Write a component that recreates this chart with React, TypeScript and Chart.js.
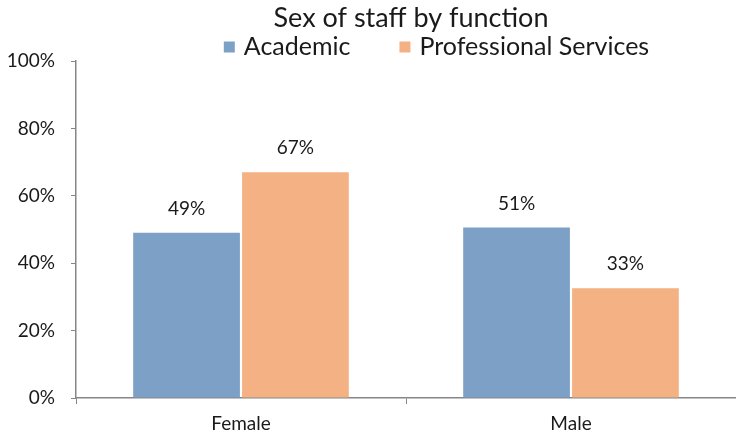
import React, { useEffect, useRef } from "react";
import { Chart, registerables } from "chart.js";

Chart.register(...registerables);

const categories = ["Female", "Male"];
const seriesNames = ["Academic", "Professional Services"];
const academic = [49, 50.6];
const professional = [67, 32.6];
const colors = ["#7DA1C6", "#F4B183"];
const titleText = "Sex of staff by function";

const FONT = "Lato, 'Open Sans', sans-serif";
const TEXT = "#1a1a1a";

const headerPlugin = {
  id: "header",
  afterDraw(chart: any) {
    const ctx = chart.ctx;
    ctx.save();
    // title
    ctx.font = `27px ${FONT}`;
    ctx.fillStyle = TEXT;
    ctx.textAlign = "center";
    ctx.textBaseline = "middle";
    ctx.fillText(titleText, 411, 18);
    // legend
    ctx.font = `25px ${FONT}`;
    ctx.textAlign = "left";
    const y = 47;
    const box = 11;
    const gap = 9;
    const itemGap = 49;
    const widths = seriesNames.map((n) => ctx.measureText(n).width);
    const total =
      widths.reduce((a, w) => a + box + gap + w, 0) + itemGap * (seriesNames.length - 1);
    let x = 436.5 - total / 2;
    seriesNames.forEach((n, i) => {
      ctx.fillStyle = colors[i];
      ctx.fillRect(x, y - box / 2, box, box);
      x += box + gap;
      ctx.fillStyle = TEXT;
      ctx.fillText(n, x, y);
      x += widths[i] + itemGap;
    });
    ctx.restore();
  },
};

const labelPlugin = {
  id: "barLabels",
  afterDatasetsDraw(chart: any) {
    const ctx = chart.ctx;
    ctx.save();
    ctx.font = `19px ${FONT}`;
    ctx.fillStyle = TEXT;
    ctx.textAlign = "center";
    ctx.textBaseline = "middle";
    chart.data.datasets.forEach((ds: any, di: number) => {
      const meta = chart.getDatasetMeta(di);
      meta.data.forEach((bar: any, i: number) => {
        ctx.fillText(Math.round(ds.data[i]) + "%", bar.x, bar.y - 24);
      });
    });
    ctx.restore();
  },
};

export default function App() {
  const ref = useRef<HTMLCanvasElement>(null);
  useEffect(() => {
    if (!ref.current) return;
    const axisColor = "#868686";
    const chart = new Chart(ref.current, {
      type: "bar",
      data: {
        labels: categories,
        datasets: [
          { label: seriesNames[0], data: academic, backgroundColor: colors[0] },
          { label: seriesNames[1], data: professional, backgroundColor: colors[1] },
        ],
      },
      options: {
        animation: false,
        responsive: false,
        maintainAspectRatio: false,
        layout: { padding: { left: 0, right: 0, top: 61, bottom: 0 } },
        datasets: {
          bar: { categoryPercentage: 0.66, barPercentage: 0.98, borderWidth: 0 },
        },
        plugins: {
          legend: { display: false },
          tooltip: { enabled: false },
          title: { display: false },
        },
        scales: {
          x: {
            grid: {
              display: true,
              drawOnChartArea: false,
              drawTicks: true,
              tickLength: 6,
              color: axisColor,
              offset: true,
            },
            border: { display: true, color: axisColor, width: 1.5 },
            ticks: {
              color: TEXT,
              font: { family: FONT, size: 19 },
              padding: 8,
            },
            afterFit(scale: any) {
              scale.height = 42;
            },
          },
          y: {
            min: 0,
            max: 100,
            grid: {
              display: true,
              drawOnChartArea: false,
              drawTicks: true,
              tickLength: 5,
              color: axisColor,
            },
            border: { display: true, color: axisColor, width: 1.5 },
            ticks: {
              stepSize: 20,
              color: TEXT,
              font: { family: FONT, size: 19 },
              padding: 16,
              callback: (v: any) => v + "%",
            },
            afterFit(scale: any) {
              scale.width = 76;
            },
          },
        },
      },
      plugins: [headerPlugin, labelPlugin],
    });
    return () => chart.destroy();
  }, []);
  return (
    <div style={{ position: "absolute", left: 0, top: 0 }}>
      <canvas ref={ref} width={736} height={440} style={{ display: "block" }} />
    </div>
  );
}
